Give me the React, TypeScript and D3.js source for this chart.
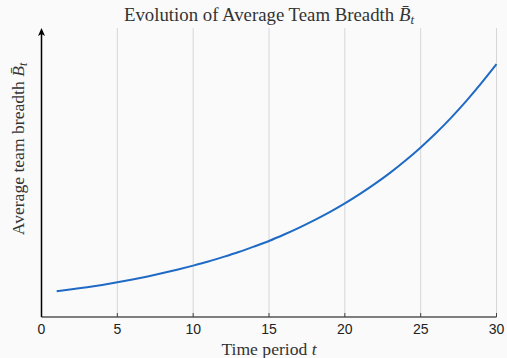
import React from "react";
import * as d3 from "d3";

const periods: number[] = Array.from({ length: 30 }, (_, i) => i + 1);
const breadth: number[] = [
  1.0, 1.08, 1.16, 1.25, 1.35, 1.46, 1.58, 1.71, 1.85, 2.0,
  2.16, 2.34, 2.53, 2.74, 2.96, 3.21, 3.48, 3.77, 4.08, 4.42,
  4.79, 5.19, 5.62, 6.09, 6.6, 7.15, 7.75, 8.4, 9.1, 9.84,
];
const xTicks: number[] = [0, 5, 10, 15, 20, 25, 30];

const W = 507;
const H = 358;
const M = { left: 41.5, right: 10.5, top: 28, bottom: 41 };

export default function App() {
  const x = d3.scaleLinear().domain([0, 30]).range([M.left, W - M.right]);
  const y = d3.scaleLinear().domain([0, 11.25]).range([H - M.bottom, M.top]);
  const line = d3
    .line<number>()
    .x((_, i) => x(periods[i]))
    .y((d) => y(d))
    .curve(d3.curveMonotoneX);
  const y0 = H - M.bottom;
  const serif = "'Liberation Serif', 'DejaVu Serif', serif";
  const sans = "'Liberation Sans', Arial, sans-serif";
  return (
    <svg width={W} height={H} style={{ position: "absolute", left: 0, top: 0 }}>
      <rect x={0} y={0} width={W} height={H} fill="#fafafa" />
      {xTicks.filter((t) => t > 0).map((t) => (
        <line key={"g" + t} x1={x(t)} x2={x(t)} y1={M.top} y2={y0} stroke="#d6d6d6" strokeWidth={1} />
      ))}
      <line x1={M.left} x2={x(30)} y1={y0} y2={y0} stroke="#555" strokeWidth={1.5} />
      {xTicks.map((t) => (
        <g key={"t" + t}>
          <line x1={x(t)} x2={x(t)} y1={y0} y2={y0 - 4} stroke="#444" strokeWidth={1} />
          <text x={x(t)} y={y0 + 17} textAnchor="middle" fontFamily={sans} fontSize={14} fill="#222">
            {t}
          </text>
        </g>
      ))}
      <line x1={M.left} x2={M.left} y1={y0} y2={M.top + 4} stroke="#000" strokeWidth={1.5} />
      <path d={`M${M.left},${M.top} L${M.left - 3.5},${M.top + 8} L${M.left},${M.top + 6} L${M.left + 3.5},${M.top + 8} Z`} fill="#000" />
      <path d={line(breadth) || ""} fill="none" stroke="#1f6ac4" strokeWidth={2} />
      <text x={269} y={20.5} textAnchor="middle" fontFamily={serif} fontSize={18.8} fill="#333">
        Evolution of Average Team Breadth{" "}
        <tspan fontStyle="italic">B̄</tspan>
        <tspan fontStyle="italic" fontSize={13} dy={3}>t</tspan>
      </text>
      <text x={269} y={355} textAnchor="middle" fontFamily={serif} fontSize={17.6} fill="#333">
        Time period <tspan fontStyle="italic">t</tspan>
      </text>
      <text transform="translate(23.5,149) rotate(-90)" textAnchor="middle" fontFamily={serif} fontSize={17.6} fill="#333">
        Average team breadth{" "}
        <tspan fontStyle="italic">B̄</tspan>
        <tspan fontStyle="italic" fontSize={12} dy={3}>t</tspan>
      </text>
    </svg>
  );
}
